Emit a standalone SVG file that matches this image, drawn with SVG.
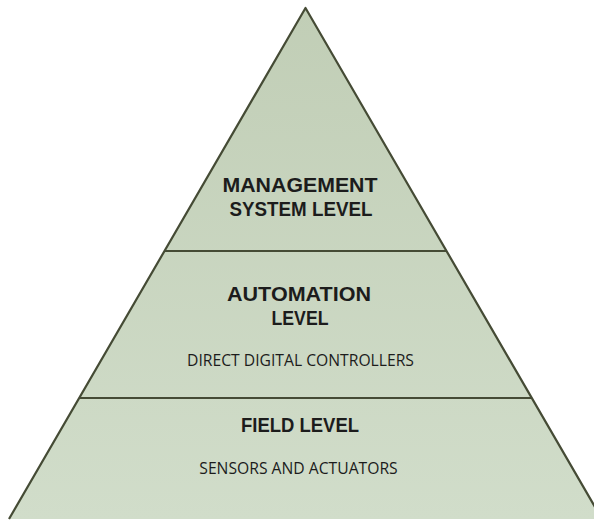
<svg xmlns="http://www.w3.org/2000/svg" width="594" height="520" viewBox="0 0 594 520">
<defs>
<linearGradient id="fillGrad" gradientUnits="userSpaceOnUse" x1="0" y1="8" x2="0" y2="519">
<stop offset="0" stop-color="#c1ceb6"/>
<stop offset="1" stop-color="#d1ddca"/>
</linearGradient>
<style>
.tier{fill:url(#fillGrad);stroke:none}
.edge{fill:none;stroke:#454b35;stroke-width:2.2;stroke-linejoin:round}
.title{font-family:"Liberation Sans","Open Sans",sans-serif;font-weight:700;font-size:20.5px;fill:#1c1c1c;text-anchor:middle}
.sub{font-family:"Open Sans","Liberation Sans",sans-serif;font-weight:400;font-size:15.7px;fill:#1c1c1c;text-anchor:middle}
</style>
</defs>
<rect width="594" height="520" fill="#ffffff"/>
<g id="management-level">
<polygon class="tier" points="305.5,8 446.5,251 164.5,251"/>
<text class="title" x="300" y="192" textLength="155" lengthAdjust="spacingAndGlyphs">MANAGEMENT</text>
<text class="title" x="301" y="216" textLength="143" lengthAdjust="spacingAndGlyphs">SYSTEM LEVEL</text>
</g>
<g id="automation-level">
<polygon class="tier" points="164.5,251 446.5,251 531.8,398 79.2,398"/>
<text class="title" x="299" y="301" textLength="144" lengthAdjust="spacingAndGlyphs">AUTOMATION</text>
<text class="title" x="300" y="325" textLength="57" lengthAdjust="spacingAndGlyphs">LEVEL</text>
<text class="sub" x="300.5" y="366">DIRECT DIGITAL CONTROLLERS</text>
</g>
<g id="field-level">
<polygon class="tier" points="79.2,398 531.8,398 602,519 9,519"/>
<text class="title" x="300" y="432" textLength="118" lengthAdjust="spacingAndGlyphs">FIELD LEVEL</text>
<text class="sub" x="298.5" y="474">SENSORS AND ACTUATORS</text>
</g>
<g id="connectors">
<polyline class="edge" points="9,519 305.5,8 602,519"/>
<line class="edge" x1="164.5" y1="251" x2="446.5" y2="251"/>
<line class="edge" x1="79.2" y1="398" x2="531.8" y2="398"/>
</g>
</svg>
